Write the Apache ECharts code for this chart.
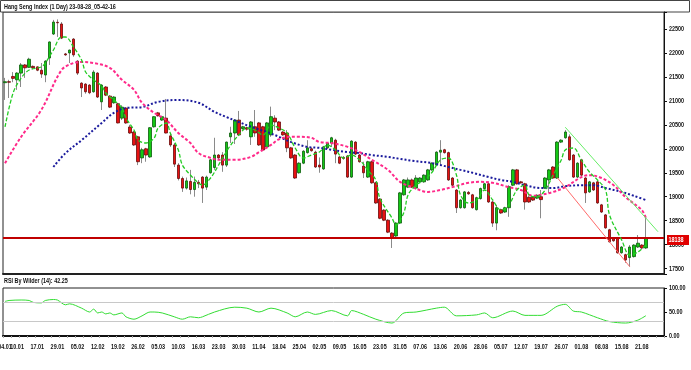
<!DOCTYPE html>
<html><head><meta charset="utf-8">
<script src="https://cdn.jsdelivr.net/npm/echarts@6/dist/echarts.min.js"></script>
<style>html,body{margin:0;padding:0;background:#fff}#c{width:691px;height:370px}</style>
</head><body><div id="c"></div>
<script>
const FONT = "'Liberation Sans','DejaVu Sans',sans-serif";
const titleText = 'Hang Seng Index (1 Day) 23-08-28_05-42-16';
const rsiTitle = 'RSI By Wilder (14): 42.25';

const tickLabels = ['04.01','10.01','17.01','29.01','05.02','12.02','19.02','26.02','05.03','10.03','16.03','23.03','30.03','11.04','18.04','25.04','02.05','09.05','16.05','23.05','31.05','07.06','13.06','20.06','28.06','05.07','12.07','19.07','26.07','01.08','08.08','15.08','21.08'];
const tickIndex = [0,3,8,13,18,23,28,33,38,43,48,53,58,63,68,73,78,83,88,93,98,103,108,113,118,123,128,133,138,143,148,153,158];
const priceTicks = [17500,18000,18500,19000,19500,20000,20500,21000,21500,22000,22500];
const rsiTicks = [0,50,100];

const open = [21380,21400,21510,21440,21580,21750,21700,21720,21710,21640,21540,21895,22395,22640,22605,21980,22000,22290,21830,21370,21350,21330,21190,21580,20980,21290,21100,20960,20940,20640,20850,20455,20350,20250,19810,20000,19830,20460,20750,20600,20640,20270,20080,19660,19380,19180,19320,19150,19300,19410,19200,19500,19610,19870,19870,19660,20250,20330,20600,20420,20440,20250,20460,20540,20460,20040,20290,20640,20560,20350,20330,20020,19870,19500,19700,19920,20000,19930,19660,19580,20020,20120,20180,19830,19820,19850,19410,20140,19870,19640,19410,19730,19290,18950,18720,18510,18240,18180,18450,19040,19200,19350,19180,19310,19310,19350,19560,19660,19930,19980,19920,19390,19140,18770,18770,19090,19040,18730,18960,19170,19270,18890,18450,18730,18680,18770,19240,19560,19310,19270,18990,18990,18970,19000,19180,19350,19620,19390,20140,20230,20250,19870,19410,19770,19390,19100,19290,19310,18830,18620,18310,18140,18140,17830,17790,17730,17750,17950,17990,17930];
const close = [21400,21390,21470,21580,21750,21690,21870,21690,21640,21560,21830,22230,22645,22630,22310,21960,22060,21960,21580,21270,21190,21170,21600,21080,21330,21120,20870,21080,20540,20870,20540,20330,20080,19730,19980,19870,20440,20670,20690,20670,20330,20080,19680,19380,19180,19330,19150,19300,19270,19180,19410,19770,19870,19810,19660,20140,20330,20600,20290,20460,20410,20560,20330,20080,19975,20540,20670,20560,20390,20290,20020,19810,19390,19700,19950,20020,19960,19620,19620,20040,20120,20230,19890,19700,19800,19410,20160,19890,19730,19500,19730,19290,18870,18550,18510,18260,18140,18450,19080,19350,19350,19200,19390,19390,19450,19560,19700,19930,19970,19920,19350,19240,18770,18930,19100,19060,18770,18980,19170,19270,18890,18450,18770,18660,18770,19210,19560,19270,19290,18890,18890,18930,19030,18940,19390,19560,19390,20140,20180,20350,19770,19410,19700,19450,19080,19310,19140,18870,18680,18350,18060,18080,17830,17950,17680,17950,17990,18030,17930,18138];
const low = [21020,21060,21390,21230,21290,21480,21690,21660,21620,21480,21390,21750,22375,22335,22290,21940,21790,21920,21540,21080,21150,21140,21170,21060,20810,21100,20850,20940,20530,20600,20520,20310,20060,19660,19700,19730,19810,20440,20670,20580,20320,20040,19620,19340,19100,19150,19050,19000,19180,18870,19140,19480,19560,19790,19520,19620,20120,20100,20270,20400,20380,20080,20250,20060,19950,20020,20250,20390,20370,20270,19930,19790,19370,19480,19680,19900,19940,19600,19500,19560,20000,20040,19700,19680,19770,19390,19390,19870,19710,19390,19390,19270,18850,18530,18490,18240,17930,18160,18430,19020,19180,19180,19150,19290,19290,19330,19540,19640,19660,19900,19330,19220,18660,18750,18750,19040,18750,18710,18940,19150,18870,18370,18300,18640,18660,18580,19220,19250,19270,18730,18870,18910,18950,18550,19160,19080,19370,19370,20120,20210,19750,19390,19390,19430,18870,19080,19120,18850,18660,18330,18040,18060,17810,17810,17620,17540,17730,17930,17910,17910];
const high = [21480,21440,21600,21600,21790,21770,21900,21740,21720,21790,21850,22240,22690,22700,22645,22000,22070,22310,21850,21390,21370,21350,21640,21600,21350,21310,21120,21100,20960,20910,20870,20500,20370,20270,20020,20020,20450,20680,20770,20690,21040,20330,20120,19700,19420,19400,19560,19420,19350,19430,19440,19790,20230,19890,19930,20150,20460,20620,20790,20480,20460,20580,20810,20560,20480,20560,20880,20700,20580,20370,20390,20040,19890,19720,19970,20180,20030,19960,19820,20060,20140,20250,20210,19850,19850,19870,20180,20160,19890,19730,19750,19750,19310,18970,18740,18530,18260,18470,19100,19370,19400,19380,19450,19410,19470,19580,19720,19950,20180,20000,19940,19410,19160,18950,19120,19120,19060,19000,19190,19290,19290,18910,18830,18750,18790,19240,19580,19580,19330,19290,19010,19010,19050,19140,19410,19580,19640,20160,20200,20390,20300,19890,19720,19790,19410,19330,19310,19330,18850,18640,18330,18160,18160,17970,17810,17990,18010,18200,18010,18600];

const maShort = [[0,20455],[2,21164],[4,21477],[6,21644],[9,21707],[10,21790],[12,22062],[14,22333],[15,22333],[17,22124],[19,21853],[20,21603],[22,21436],[24,21310],[25,21164],[27,21018],[29,20851],[30,20643],[32,20392],[33,20184],[35,20121],[37,20225],[38,20434],[40,20538],[41,20330],[43,19975],[44,19662],[46,19453],[48,19286],[49,19244],[51,19390],[53,19662],[54,19808],[56,20079],[58,20288],[60,20434],[62,20392],[64,20288],[66,20497],[68,20434],[70,20330],[72,20017],[74,19808],[76,19870],[78,19933],[80,20079],[82,19975],[84,19808],[86,19870],[88,19766],[90,19557],[92,19349],[93,18973],[96,18556],[97,18410],[99,18681],[100,19036],[102,19244],[104,19349],[106,19516],[108,19766],[110,19808],[112,19453],[113,19036],[115,18869],[117,18931],[119,19140],[121,18931],[123,18723],[125,18827],[127,19140],[129,19244],[130,19036],[132,18994],[134,19140],[136,19453],[138,19766],[139,19975],[141,20017],[143,19766],[145,19516],[147,19349],[149,19140],[150,18618],[153,18097],[155,17783],[157,17846],[159,17992]];
const maMid = [[0,19700],[4,20250],[9,20810],[14,21640],[17,21790],[19,21810],[22,21790],[26,21690],[29,21440],[32,21230],[34,20960],[37,20750],[40,20600],[43,20330],[46,20120],[48,19910],[51,19810],[53,19770],[57,19770],[61,19830],[63,19930],[66,20080],[68,20200],[71,20250],[73,20250],[76,20230],[78,20140],[81,20120],[85,20040],[88,19930],[91,19770],[95,19560],[98,19310],[101,19200],[105,19100],[108,19140],[111,19200],[115,19290],[118,19310],[121,19290],[125,19200],[128,19140],[131,19020],[133,19040],[136,19100],[139,19200],[143,19410],[145,19450],[148,19390],[151,19240],[154,18990],[158,18720],[159,18560]];
const maLong = [[12,19620],[15,19910],[19,20180],[24,20540],[27,20750],[30,20850],[34,20870],[38,20980],[43,21020],[48,20960],[52,20770],[55,20660],[58,20560],[61,20460],[65,20350],[68,20250],[71,20140],[75,20040],[78,20020],[81,19980],[85,19930],[88,19910],[91,19870],[95,19830],[98,19790],[101,19750],[106,19700],[110,19620],[113,19560],[116,19500],[120,19410],[123,19350],[126,19310],[129,19240],[133,19180],[136,19180],[139,19220],[143,19240],[146,19240],[149,19180],[153,19100],[156,19020],[159,18930]];
const rsi = [[0,72],[1,74],[4,75],[6,74],[7,70],[9,69],[10,74],[12,76],[13,75],[15,65],[16,67],[19,58],[21,50],[22,56],[23,48],[24,50],[25,46],[26,48],[27,44],[29,48],[30,40],[32,35],[34,42],[36,50],[37,50],[39,48],[42,40],[44,35],[46,40],[48,38],[49,40],[52,50],[57,60],[60,58],[63,50],[66,58],[70,48],[72,40],[75,50],[77,45],[81,53],[85,42],[86,53],[89,45],[92,35],[96,27],[99,48],[102,50],[107,58],[109,60],[112,42],[117,44],[119,48],[121,38],[126,52],[129,43],[133,43],[137,62],[139,66],[141,52],[143,50],[147,38],[150,30],[154,27],[157,33],[159,42.25]];
const rsiLevels = [70, 30];
const trendGreen = [[139,20450],[162,18270]];
const trendRed = [[137,19400],[155,17540]];
const lastPrice = 18138;

const extraSlots = 4;
const cats = [];
for (let i = 0; i < open.length + extraSlots; i++) cats.push('c' + i);
const wicks = open.map((o, i) => [o, close[i], low[i], high[i]]);
const bodies = open.map((o, i) => [o, close[i], Math.min(o, close[i]), Math.max(o, close[i])]);

const chart = echarts.init(document.getElementById('c'), null, {renderer: 'canvas'});
const lineS = (data, color, width, type, z) => ({
  type: 'line', xAxisIndex: 0, yAxisIndex: 0, data, showSymbol: false, smooth: 0.35,
  lineStyle: {color, width, type}, z, silent: true
});
const SX = 0.68;
const txt = (x, y, text, align, extra) => Object.assign({
  type: 'text', x, y, scaleX: SX, z: 50,
  style: {text, font: 'bold 8px ' + FONT, fill: '#111', align, verticalAlign: 'middle'}
}, extra || {});

chart.setOption({
  animation: false,
  backgroundColor: '#fff',
  grid: [
    {left: 3, top: 12, width: 661, height: 262, show: true, borderColor: '#222', borderWidth: 1},
    {left: 3, top: 288, width: 661, height: 48, show: true, borderColor: '#222', borderWidth: 1}
  ],
  xAxis: [
    {type: 'category', gridIndex: 0, data: cats, axisLine: {show: true, lineStyle: {color: '#222', width: 2}}, axisTick: {show: false}, axisLabel: {show: false}, splitLine: {show: false}},
    {type: 'category', gridIndex: 1, data: cats, axisLine: {lineStyle: {color: '#111', width: 2}},
      axisTick: {show: true, interval: 1, length: 2, lineStyle: {color: '#aaa'}},
      axisLabel: {show: false}, splitLine: {show: false}}
  ],
  yAxis: [
    {type: 'value', gridIndex: 0, position: 'right', min: 17387, max: 22855, minInterval: 500, maxInterval: 500, splitNumber: 11,
      axisLine: {show: true, lineStyle: {color: '#111', width: 1}},
      axisTick: {show: true, length: 3, lineStyle: {color: '#111'}},
      axisLabel: {show: false}, splitLine: {show: false}},
    {type: 'value', gridIndex: 1, position: 'right', min: 0, max: 100, interval: 50,
      axisLine: {show: true, lineStyle: {color: '#111', width: 1}},
      axisTick: {show: true, length: 3, lineStyle: {color: '#111'}},
      axisLabel: {show: false}, splitLine: {show: false}}
  ],
  series: [
    {type: 'candlestick', xAxisIndex: 0, yAxisIndex: 0, data: wicks, barWidth: 1, z: 2, silent: true,
      itemStyle: {color: '#8a8a8a', color0: '#8a8a8a', borderColor: '#8a8a8a', borderColor0: '#8a8a8a', borderWidth: 1},
      markLine: {silent: true, symbol: 'none', data: [{yAxis: lastPrice}],
        lineStyle: {color: '#c00000', width: 2, type: 'solid'}, label: {show: false}}},
    {type: 'candlestick', xAxisIndex: 0, yAxisIndex: 0, data: bodies, barWidth: 3, z: 2, silent: true,
      itemStyle: {color: '#14c814', color0: '#e81212', borderColor: '#0b5a0b', borderColor0: '#6a0a0a', borderWidth: 0.8}},
    lineS(maLong, '#1a1a9c', 2, [2, 2], 3),
    lineS(maMid, '#ff2a8a', 2, [3, 2], 4),
    lineS(maShort, '#22cc22', 1.3, [4, 2], 5),
    Object.assign(lineS(trendGreen, '#66ee66', 1, 'solid', 6), {smooth: false}),
    Object.assign(lineS(trendRed, '#ff6a6a', 1, 'solid', 6), {smooth: false}),
    {type: 'line', xAxisIndex: 1, yAxisIndex: 1, data: rsi, showSymbol: false, smooth: 0.3, silent: true,
      lineStyle: {color: '#33dd33', width: 1},
      markLine: {silent: true, symbol: 'none', label: {show: false},
        lineStyle: {color: '#c8c8c8', width: 1, type: 'solid'},
        data: rsiLevels.map(v => ({yAxis: v}))}}
  ]
});

const g = [
  {type: 'rect', shape: {x: 0.5, y: 0.5, width: 689, height: 11.5}, style: {fill: '#fff', stroke: '#444', lineWidth: 1}, z: 0},
  txt(4, 6.5, titleText, 'left'),
  txt(4, 281, rsiTitle, 'left')
];
tickIndex.forEach((k, j) => {
  const x = chart.convertToPixel({xAxisIndex: 1}, k);
  g.push(txt(x, 347, tickLabels[j], 'center'));
});
priceTicks.forEach(v => {
  const y = chart.convertToPixel({yAxisIndex: 0}, v);
  g.push(txt(669, y, String(v), 'left'));
});
rsiTicks.forEach(v => {
  const y = chart.convertToPixel({yAxisIndex: 1}, v);
  g.push(txt(669, y, v.toFixed(2), 'left'));
});
const yl = chart.convertToPixel({yAxisIndex: 0}, lastPrice);
g.push({type: 'rect', shape: {x: 667, y: yl - 3, width: 22, height: 10}, style: {fill: '#e00000'}, z: 60});
g.push(txt(668.5, yl + 2, String(lastPrice), 'left', {z: 61, style: {text: String(lastPrice), font: 'bold 8px ' + FONT, fill: '#fff', align: 'left', verticalAlign: 'middle'}}));
chart.setOption({graphic: g});
</script></body></html>
